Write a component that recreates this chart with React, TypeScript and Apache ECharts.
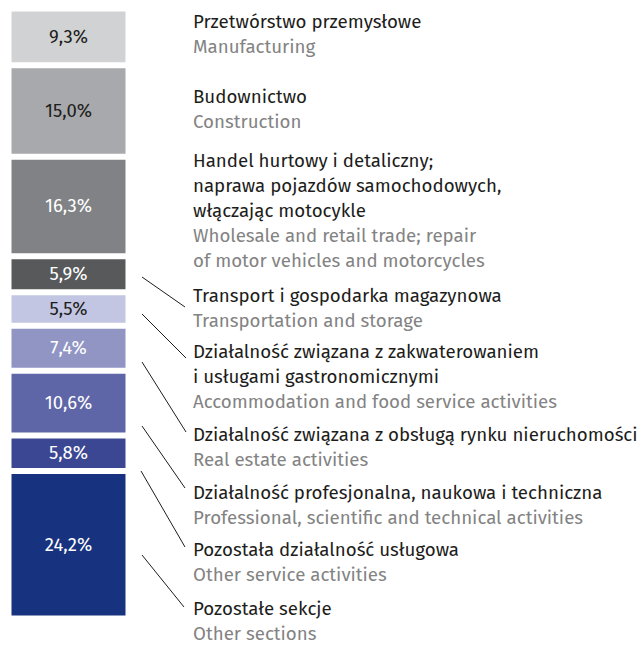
import React, { useEffect, useRef } from "react";
import * as echarts from "echarts";

const values = [9.3, 15.0, 16.3, 5.9, 5.5, 7.4, 10.6, 5.8, 24.2];
const colors = ["#d1d2d4", "#a8a9ac", "#808285", "#58595b", "#c3c6e2", "#9095c4", "#5f66a7", "#3b4792", "#17327f"];
const valueLabelColors = ["#1d1d1b", "#1d1d1b", "#ffffff", "#ffffff", "#1d1d1b", "#ffffff", "#ffffff", "#ffffff", "#ffffff"];
const plLabels = [
  ["Przetwórstwo przemysłowe"],
  ["Budownictwo"],
  ["Handel hurtowy i detaliczny;", "naprawa pojazdów samochodowych,", "włączając motocykle"],
  ["Transport i gospodarka magazynowa"],
  ["Działalność związana z zakwaterowaniem", "i usługami gastronomicznymi"],
  ["Działalność związana z obsługą rynku nieruchomości"],
  ["Działalność profesjonalna, naukowa i techniczna"],
  ["Pozostała działalność usługowa"],
  ["Pozostałe sekcje"],
];
const enLabels = [
  ["Manufacturing"],
  ["Construction"],
  ["Wholesale and retail trade; repair", "of motor vehicles and motorcycles"],
  ["Transportation and storage"],
  ["Accommodation and food service activities"],
  ["Real estate activities"],
  ["Professional, scientific and technical activities"],
  ["Other service activities"],
  ["Other sections"],
];

// layout (annotation placement)
const blockTop = [22, 97, 161, 296, 352, 435, 493, 550, 609];
const leaderLines: (number[] | null)[] = [
  null,
  null,
  null,
  [142, 277, 185, 307],
  [142, 314, 186, 358],
  [142, 362, 186, 432],
  [142, 426, 185, 488],
  [141, 471, 185, 547],
  [142, 555, 184, 607],
];

const FONT = "'Fira Sans', Roboto, 'Noto Sans', sans-serif";

export default function App() {
  const ref = useRef<HTMLDivElement>(null);
  useEffect(() => {
    if (!ref.current) return;
    const chart = echarts.init(ref.current, undefined, { renderer: "svg" });
    const series = values.map((v, i) => ({
      type: "bar" as const,
      stack: "total",
      data: [v],
      barWidth: "100%",
      itemStyle: { color: colors[i], borderColor: "#ffffff", borderWidth: 3 },
      label: {
        show: true,
        position: "inside" as const,
        formatter: () => v.toFixed(1).replace(".", ",") + "%",
        color: valueLabelColors[i],
        fontSize: 18.5,
        fontFamily: FONT,
      },
    }));
    const graphics: any[] = [];
    const LH = 25;
    plLabels.forEach((pl, i) => {
      let y = blockTop[i];
      pl.forEach((line) => {
        graphics.push({
          type: "text",
          x: 193,
          y,
          style: { text: line, fill: "#1d1d1b", fontSize: 18.7, fontFamily: FONT, textVerticalAlign: "middle" },
        });
        y += LH;
      });
      enLabels[i].forEach((line) => {
        graphics.push({
          type: "text",
          x: 193,
          y,
          style: { text: line, fill: "#838383", fontSize: 18.7, fontFamily: FONT, textVerticalAlign: "middle" },
        });
        y += LH;
      });
      const l = leaderLines[i];
      if (l) {
        graphics.push({
          type: "line",
          shape: { x1: l[0], y1: l[1], x2: l[2], y2: l[3] },
          style: { stroke: "#1d1d1b", lineWidth: 1 },
        });
      }
    });
    chart.setOption({
      animation: false,
      grid: { left: 8.5, top: 8.5, width: 120, height: 610 },
      xAxis: { type: "category", data: [""], show: false },
      yAxis: { type: "value", min: 0, max: 100, inverse: true, show: false },
      series,
      graphic: graphics,
    });
    return () => chart.dispose();
  }, []);
  return <div ref={ref} style={{ width: 639, height: 646, position: "absolute", left: 0, top: 0 }} />;
}
